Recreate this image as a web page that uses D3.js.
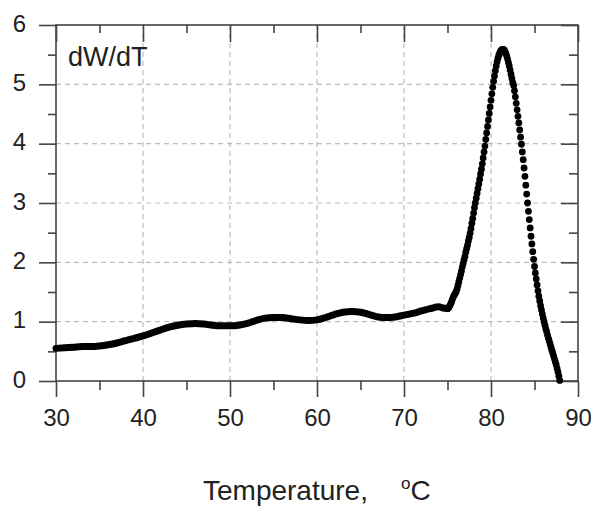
<!DOCTYPE html>
<html>
<head>
<meta charset="utf-8">
<script src="https://cdn.jsdelivr.net/npm/d3@7"></script>
<style>
  body { margin: 0; background: #fff; }
  text { font-family: "Liberation Sans", Arial, sans-serif; fill: #222; }
</style>
</head>
<body>
<div id="chart"></div>
<script>
// Baseline part of the curve (drawn as a thick line)
const baseTemps = [30, 31, 32, 33, 34, 35, 36, 37, 38, 39, 40, 41, 42, 43, 44, 45, 46, 47, 48, 49,
  50, 51, 52, 53, 54, 55, 56, 57, 58, 59, 60, 61, 62, 63, 64, 65, 66, 67, 68, 69,
  70, 71, 72, 73, 74, 74.5, 75];
const baseValues = [0.55, 0.56, 0.57, 0.58, 0.58, 0.59, 0.61, 0.64, 0.68, 0.72, 0.76, 0.81, 0.86, 0.91, 0.94, 0.96, 0.97, 0.96, 0.94, 0.93,
  0.93, 0.94, 0.97, 1.02, 1.06, 1.07, 1.07, 1.05, 1.03, 1.02, 1.03, 1.07, 1.12, 1.16, 1.17, 1.16, 1.12, 1.08, 1.07, 1.08,
  1.11, 1.14, 1.18, 1.22, 1.25, 1.23, 1.22];

// Melting peak, sampled every 0.1 degC (drawn as dots)
const peakTemps = [75.0, 75.1, 75.2, 75.3, 75.4, 75.5, 75.6, 75.7, 75.8, 75.9,
  76.0, 76.1, 76.2, 76.3, 76.4, 76.5, 76.6, 76.7, 76.8, 76.9,
  77.0, 77.1, 77.2, 77.3, 77.4, 77.5, 77.6, 77.7, 77.8, 77.9,
  78.0, 78.1, 78.2, 78.3, 78.4, 78.5, 78.6, 78.7, 78.8, 78.9,
  79.0, 79.1, 79.2, 79.3, 79.4, 79.5, 79.6, 79.7, 79.8, 79.9,
  80.0, 80.1, 80.2, 80.3, 80.4, 80.5, 80.6, 80.7, 80.8, 80.9,
  81.0, 81.1, 81.2, 81.3, 81.4, 81.5, 81.6, 81.7, 81.8, 81.9,
  82.0, 82.1, 82.2, 82.3, 82.4, 82.5, 82.6, 82.7, 82.8, 82.9,
  83.0, 83.1, 83.2, 83.3, 83.4, 83.5, 83.6, 83.7, 83.8, 83.9,
  84.0, 84.1, 84.2, 84.3, 84.4, 84.5, 84.6, 84.7, 84.8, 84.9,
  85.0, 85.1, 85.2, 85.3, 85.4, 85.5, 85.6, 85.7, 85.8, 85.9,
  86.0, 86.1, 86.2, 86.3, 86.4, 86.5, 86.6, 86.7, 86.8, 86.9,
  87.0, 87.1, 87.2, 87.3, 87.4, 87.5, 87.6, 87.7, 87.8, 87.9];
const peakValues = [1.22, 1.23, 1.25, 1.28, 1.31, 1.35, 1.39, 1.43, 1.45, 1.48,
  1.51, 1.55, 1.61, 1.67, 1.73, 1.79, 1.85, 1.92, 1.98, 2.04,
  2.10, 2.17, 2.23, 2.29, 2.36, 2.42, 2.49, 2.57, 2.66, 2.74,
  2.83, 2.92, 3.00, 3.08, 3.16, 3.24, 3.32, 3.40, 3.49, 3.57,
  3.66, 3.76, 3.86, 3.96, 4.07, 4.18, 4.29, 4.40, 4.51, 4.62,
  4.73, 4.84, 4.95, 5.05, 5.14, 5.23, 5.31, 5.38, 5.44, 5.49,
  5.53, 5.56, 5.58, 5.59, 5.59, 5.58, 5.56, 5.52, 5.48, 5.43,
  5.37, 5.31, 5.24, 5.17, 5.10, 5.03, 4.98, 4.89, 4.79, 4.68,
  4.57, 4.46, 4.35, 4.23, 4.11, 3.99, 3.86, 3.73, 3.59, 3.45,
  3.30, 3.15, 3.00, 2.86, 2.72, 2.58, 2.44, 2.31, 2.18, 2.05,
  1.93, 1.82, 1.72, 1.62, 1.52, 1.43, 1.35, 1.27, 1.20, 1.13,
  1.06, 1.00, 0.94, 0.88, 0.83, 0.77, 0.72, 0.67, 0.62, 0.57,
  0.52, 0.47, 0.42, 0.37, 0.32, 0.27, 0.21, 0.15, 0.08, 0.01];

const xMajor = [30, 40, 50, 60, 70, 80, 90];
const xMinor = [35, 45, 55, 65, 75, 85];
const yMajor = [0, 1, 2, 3, 4, 5, 6];
const yMinor = [0.5, 1.5, 2.5, 3.5, 4.5, 5.5];
const xGrid = [40, 50, 60, 70, 80];
const yGrid = [1, 2, 3, 4, 5];

const width = 591, height = 508;
const plot = { left: 56, right: 578, top: 25, bottom: 381 };

const svg = d3.select('#chart').append('svg')
  .attr('width', width)
  .attr('height', height);

const x = d3.scaleLinear().domain([30, 90]).range([plot.left, plot.right]);
const y = d3.scaleLinear().domain([0, 6]).range([plot.bottom, plot.top]);

// dashed grid
const grid = svg.append('g')
  .attr('stroke', '#bdbdbd')
  .attr('stroke-width', 1.2)
  .attr('stroke-dasharray', '5,4');
grid.selectAll('.gx').data(xGrid).enter().append('line')
  .attr('x1', d => x(d)).attr('x2', d => x(d))
  .attr('y1', plot.top).attr('y2', plot.bottom);
grid.selectAll('.gy').data(yGrid).enter().append('line')
  .attr('x1', plot.left).attr('x2', plot.right)
  .attr('y1', d => y(d)).attr('y2', d => y(d));

// axes: bottom/left ticks point out, top/right point in
function styleAxis(g) {
  g.select('.domain').remove();
  g.selectAll('.tick line').attr('stroke', '#444').attr('stroke-width', 1.6);
  g.selectAll('.tick text')
    .style('font-size', '24px')
    .style('font-family', '"Liberation Sans", Arial, sans-serif')
    .attr('fill', '#222');
}

const fmt = d3.format('d');

svg.append('g').attr('transform', `translate(0,${plot.bottom})`)
  .call(d3.axisBottom(x).tickValues(xMajor).tickFormat(fmt).tickSize(16).tickPadding(12).tickSizeOuter(0))
  .call(styleAxis);
svg.append('g').attr('transform', `translate(0,${plot.bottom})`)
  .call(d3.axisBottom(x).tickValues(xMinor).tickSize(9).tickFormat('').tickSizeOuter(0))
  .call(styleAxis);
svg.append('g').attr('transform', `translate(0,${plot.top})`)
  .call(d3.axisTop(x).tickValues(xMajor).tickSize(-17).tickFormat('').tickSizeOuter(0))
  .call(styleAxis);
svg.append('g').attr('transform', `translate(0,${plot.top})`)
  .call(d3.axisTop(x).tickValues(xMinor).tickSize(-8).tickFormat('').tickSizeOuter(0))
  .call(styleAxis);

svg.append('g').attr('transform', `translate(${plot.left},0)`)
  .call(d3.axisLeft(y).tickValues(yMajor).tickFormat(fmt).tickSize(17).tickPadding(13).tickSizeOuter(0))
  .call(styleAxis)
  .selectAll('.tick text').attr('dy', '0.25em');
svg.append('g').attr('transform', `translate(${plot.left},0)`)
  .call(d3.axisLeft(y).tickValues(yMinor).tickSize(8).tickFormat('').tickSizeOuter(0))
  .call(styleAxis);
svg.append('g').attr('transform', `translate(${plot.right},0)`)
  .call(d3.axisRight(y).tickValues(yMajor).tickSize(-17).tickFormat('').tickSizeOuter(0))
  .call(styleAxis);
svg.append('g').attr('transform', `translate(${plot.right},0)`)
  .call(d3.axisRight(y).tickValues(yMinor).tickSize(-9).tickFormat('').tickSizeOuter(0))
  .call(styleAxis);

// frame
svg.append('rect')
  .attr('x', plot.left).attr('y', plot.top)
  .attr('width', plot.right - plot.left).attr('height', plot.bottom - plot.top)
  .attr('fill', 'none').attr('stroke', '#444').attr('stroke-width', 1.6);

// data: thick line for the baseline, dots for the peak
const baseData = baseTemps.map((t, i) => ({ t, v: baseValues[i] }));
const peakData = peakTemps.map((t, i) => ({ t, v: peakValues[i] }));

const line = d3.line()
  .x(d => x(d.t))
  .y(d => y(d.v))
  .curve(d3.curveMonotoneX);

svg.append('path')
  .datum(baseData)
  .attr('d', line)
  .attr('fill', 'none')
  .attr('stroke', '#000')
  .attr('stroke-width', 7)
  .attr('stroke-linecap', 'round')
  .attr('stroke-linejoin', 'round');

svg.append('g')
  .selectAll('circle')
  .data(peakData)
  .enter()
  .append('circle')
  .attr('cx', d => x(d.t))
  .attr('cy', d => y(d.v))
  .attr('r', 3.4)
  .attr('fill', '#000');

// labels
svg.append('text')
  .attr('x', 68).attr('y', 66)
  .style('font-size', '27px')
  .text('dW/dT');

const title = svg.append('text')
  .attr('x', 203).attr('y', 500)
  .style('font-size', '28px');
title.append('tspan').text('Temperature,');
title.append('tspan').attr('x', 401).attr('dy', -11).style('font-size', '17px').text('o');
title.append('tspan').attr('dy', 11).style('font-size', '28px').text('C');
</script>
</body>
</html>
